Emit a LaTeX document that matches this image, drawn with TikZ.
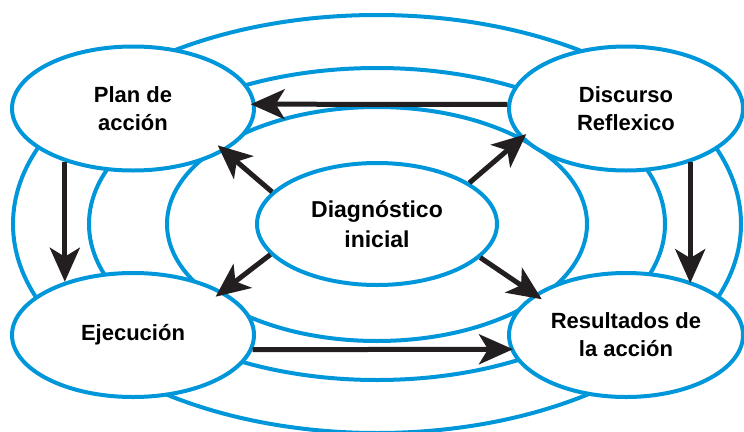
\documentclass[tikz,border=0pt]{standalone}
\usepackage{fontspec}
\setmainfont{Liberation Sans}
\usetikzlibrary{arrows.meta,shapes.geometric}
\definecolor{ringblue}{RGB}{0,150,218}
\definecolor{arrowblack}{RGB}{35,31,32}
\begin{document}
\begin{tikzpicture}[x=1pt,y=-1pt,
  ring/.style={ellipse, draw=ringblue, line width=4pt, inner sep=0pt},
  bubble/.style={ellipse, draw=ringblue, fill=white, line width=4pt, inner sep=0pt, align=center,
    font=\fontsize{22}{28}\selectfont\bfseries},
  flow/.style={draw=arrowblack, line width=5pt, -{Stealth[length=34pt,width=30pt,inset=9pt]}}]
\useasboundingbox (0,0) rectangle (744,431);
% concentric rings
\node[ring, minimum width=728pt, minimum height=418pt] (r1) at (377,224) {};
\node[ring, minimum width=576pt, minimum height=312pt] (r2) at (377,224) {};
\node[ring, minimum width=420pt, minimum height=234pt] (r3) at (377,224) {};
% bubbles
\node[bubble, minimum width=240pt, minimum height=122pt, font=\fontsize{23}{30}\selectfont\bfseries] (diag) at (377,224) {Diagnóstico\\inicial};
\node[bubble, minimum width=242pt, minimum height=124pt] (plan) at (133,108.5) {Plan de\\acción};
\node[bubble, minimum width=234pt, minimum height=124pt] (disc) at (626,108.5) {Discurso\\Reflexico};
\node[bubble, minimum width=242pt, minimum height=124pt] (ejec) at (133,335) {Ejecución};
\node[bubble, minimum width=234pt, minimum height=124pt] (res) at (626,335) {Resultados de\\la acción};
% arrows
\draw[flow, shorten >=-5pt] (disc.178) -- (plan.2);
\draw[flow] (plan.218) -- (ejec.142);
\draw[flow, shorten >=-2pt] (disc.-40) -- (res.40);
\draw[flow, shorten >=-3pt] (ejec.-7) -- (res.187);
\draw[flow, shorten >=-9pt] (diag.163) -- (plan.-25);
\draw[flow, shorten >=-7pt] (diag.24) -- (disc.196);
\draw[flow, shorten >=-9pt] (diag.-164) -- (ejec.26);
\draw[flow, shorten >=-9pt] (diag.-18) -- (res.156);
\end{tikzpicture}
\end{document}
